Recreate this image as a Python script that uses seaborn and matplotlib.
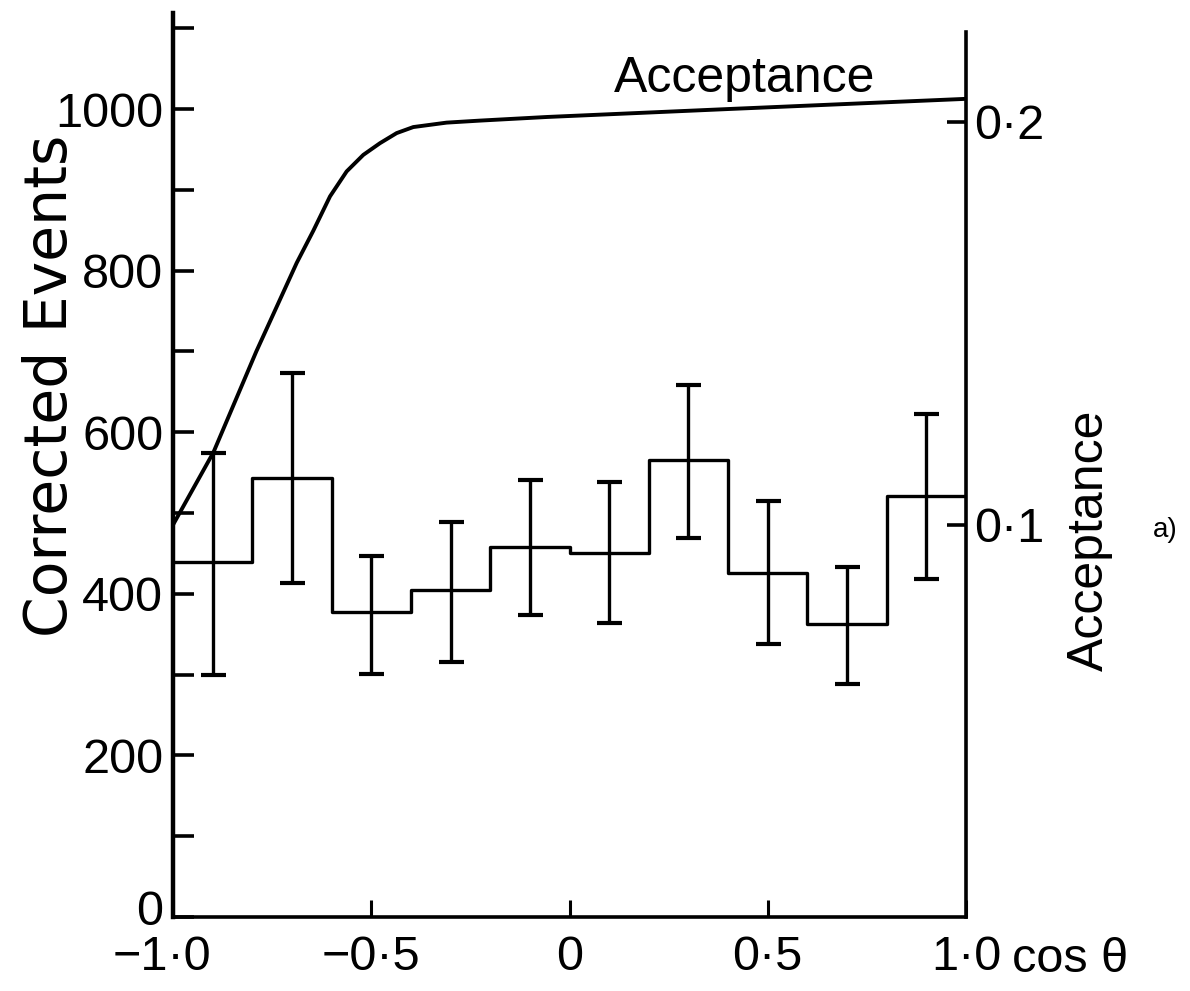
import numpy as np
import pandas as pd
import matplotlib
matplotlib.use("Agg")
import matplotlib.pyplot as plt
import matplotlib.transforms as mtransforms
import seaborn as sns
from matplotlib.ticker import FixedLocator, FixedFormatter

# ---------------- data ----------------
bin_edges = [-1.0, -0.8, -0.6, -0.4, -0.2, 0.0, 0.2, 0.4, 0.6, 0.8, 1.0]
bin_centers = [-0.9, -0.7, -0.5, -0.3, -0.1, 0.1, 0.3, 0.5, 0.7, 0.9]
events = [439, 543, 378, 405, 458, 451, 566, 426, 363, 521]
err_upper = [574, 673, 447, 489, 541, 538, 658, 515, 433, 623]
err_lower = [300, 413, 301, 316, 374, 364, 469, 338, 288, 418]

acc_x = [-1.0, -0.898, -0.79, -0.688, -0.646, -0.604, -0.562, -0.520, -0.478,
         -0.436, -0.394, -0.310, -0.226, -0.057, 0.407, 1.0]
acc_y = [0.100, 0.118, 0.143, 0.165, 0.173, 0.1815, 0.1877, 0.1918, 0.1947,
         0.1972, 0.1987, 0.1998, 0.2003, 0.2012, 0.2032, 0.2057]

x_ticks = [-1.0, -0.5, 0.0, 0.5, 1.0]
x_labels = ["\u22121\u00b70", "\u22120\u00b75", "0", "0\u00b75", "1\u00b70"]
y_ticks = [0, 100, 200, 300, 400, 500, 600, 700, 800, 900, 1000, 1100]
y_labels = ["0", "", "200", "", "400", "", "600", "", "800", "", "1000", ""]
acc_ticks = [0.1, 0.2]
acc_labels = ["0\u00b71", "0\u00b72"]

# ---------------- style ----------------
sns.set_theme(style="ticks")
plt.rcParams["font.family"] = ["Liberation Sans", "DejaVu Sans"]
sans = ["Liberation Sans", "DejaVu Sans"]

W, H = 1190, 991
fig = plt.figure(figsize=(W / 100, H / 100), dpi=100)
fig.patch.set_facecolor("white")
left, right, bottom, top = 173 / W, 966 / W, 1 - 917 / H, 1 - 13 / H
ax = fig.add_axes([left, bottom, right - left, top - bottom])
ax.set_facecolor("white")
ax2 = ax.twinx()

ink = "black"
tick_fs = 35

# histogram (step line)
hist_df = pd.DataFrame({"x": bin_edges, "y": events + [events[-1]]})
sns.lineplot(data=hist_df, x="x", y="y", ax=ax, drawstyle="steps-post",
             color=ink, linewidth=2.4, estimator=None, sort=False)

# error bars
yerr = np.array([np.array(events) - np.array(err_lower),
                 np.array(err_upper) - np.array(events)])
ax.errorbar(bin_centers, events, yerr=yerr, fmt="none", ecolor=ink,
            elinewidth=2.4, capsize=9, capthick=3.0)

# acceptance curve
acc_df = pd.DataFrame({"x": acc_x, "y": acc_y})
sns.lineplot(data=acc_df, x="x", y="y", ax=ax2, color=ink, linewidth=2.8,
             estimator=None, sort=False)

# limits
ax.set_xlim(-1.0, 1.0)
ax.set_ylim(0, 1119)
ax2.set_ylim(0.0027, 0.227)

# spines
for s in ["top", "right"]:
    ax.spines[s].set_visible(False)
for s in ["top", "left", "bottom"]:
    ax2.spines[s].set_visible(False)
ax.spines["left"].set_linewidth(3.2)
ax.spines["bottom"].set_linewidth(2.6)
ax2.spines["right"].set_linewidth(2.6)
ax2.spines["right"].set_bounds(0.0027, 0.2223)
for sp in list(ax.spines.values()) + list(ax2.spines.values()):
    sp.set_color(ink)

# ticks
ax.yaxis.set_major_locator(FixedLocator(y_ticks))
ax.yaxis.set_major_formatter(FixedFormatter(y_labels))
ax.xaxis.set_major_locator(FixedLocator(x_ticks))
ax.xaxis.set_major_formatter(FixedFormatter(x_labels))
ax.tick_params(axis="y", direction="in", length=15, width=2.6, pad=7,
               labelsize=tick_fs, colors=ink)
ax.tick_params(axis="x", direction="in", length=12, width=2.2, pad=13,
               labelsize=tick_fs, colors=ink)
ax2.yaxis.set_major_locator(FixedLocator(acc_ticks))
ax2.yaxis.set_major_formatter(FixedFormatter(acc_labels))
ax2.tick_params(axis="y", direction="in", length=14, width=2.6, pad=6,
                labelsize=tick_fs, colors=ink)

# nudge the corner labels apart, as in the reference
ytick0 = ax.yaxis.get_major_ticks()[0]
ytick0.label1.set_transform(ytick0.label1.get_transform() +
                            mtransforms.ScaledTranslation(0, 7 / 72, fig.dpi_scale_trans))
xtick0 = ax.xaxis.get_major_ticks()[0]
xtick0.label1.set_transform(xtick0.label1.get_transform() +
                            mtransforms.ScaledTranslation(-8 / 72, 0, fig.dpi_scale_trans))

ax.set_xlabel("")
ax.set_ylabel("")
ax2.set_ylabel("")
ax.grid(False)
ax2.grid(False)

# text labels
fig.text(50 / W, 1 - 386 / H, "Corrected Events", rotation=90,
         ha="center", va="center", fontsize=42, color=ink, family=["DejaVu Sans"])
fig.text(1090 / W, 1 - 540 / H, "Acceptance", rotation=90,
         ha="center", va="center", fontsize=36, color=ink, family=sans)
fig.text(745 / W, 1 - 92 / H, "Acceptance", ha="center", va="baseline",
         fontsize=36, color=ink, family=sans)
fig.text(1070 / W, 1 - 972 / H, "cos \u03b8", ha="center", va="baseline",
         fontsize=35, color=ink, family=sans)
fig.text(1165 / W, 1 - 530 / H, "a)", ha="center", va="center",
         fontsize=20, color=ink, family=sans)

fig.savefig("out.png", dpi=100, facecolor="white")
